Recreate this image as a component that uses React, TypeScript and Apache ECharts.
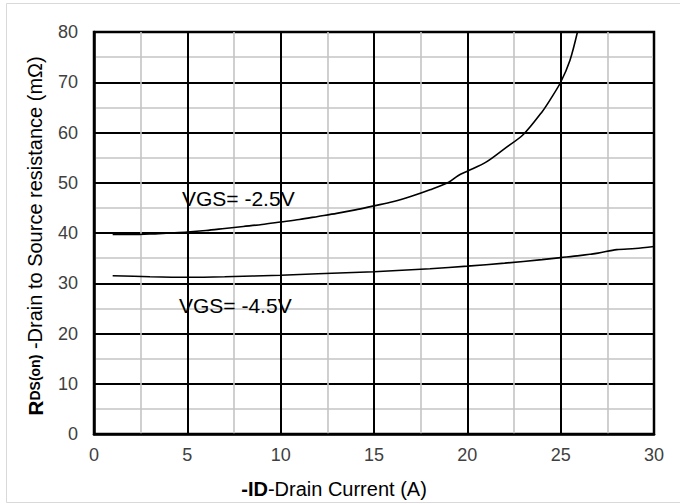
import React, { useEffect, useRef } from "react";
import * as echarts from "echarts";

const xTicks = [0, 5, 10, 15, 20, 25, 30];
const yTicks = [0, 10, 20, 30, 40, 50, 60, 70, 80];

const vgs25X = [1, 2, 3, 4, 5, 6, 7, 8, 9, 10, 11, 12, 13, 14, 15, 16, 17, 18, 19, 19.5, 20, 21, 22, 23, 24, 24.5, 25, 25.5, 25.9];
const vgs25Y = [39.7, 39.7, 39.8, 40.0, 40.2, 40.5, 40.9, 41.3, 41.7, 42.2, 42.7, 43.3, 43.9, 44.6, 45.4, 46.2, 47.3, 48.6, 50.1, 51.4, 52.3, 54.1, 56.8, 59.6, 64.1, 66.9, 70.0, 74.4, 80.0];

const vgs45X = [1, 3, 5, 7, 10, 12, 15, 18, 20, 22, 24, 25, 26, 27, 28, 29, 30];
const vgs45Y = [31.5, 31.3, 31.2, 31.3, 31.6, 31.9, 32.3, 32.9, 33.4, 34.0, 34.7, 35.1, 35.5, 36.0, 36.7, 36.9, 37.3];

const seriesLabels = ["VGS= -2.5V", "VGS= -4.5V"];
const FONT = "'Liberation Sans', Arial, sans-serif";

export default function App() {
  const ref = useRef<HTMLDivElement>(null);
  useEffect(() => {
    if (!ref.current) return;
    const chart = echarts.init(ref.current, null, { renderer: "svg" });
    const zip = (xs: number[], ys: number[]) => xs.map((x, i) => [x, ys[i]]);
    chart.setOption({
      animation: false,
      backgroundColor: "#fff",
      textStyle: { fontFamily: FONT },
      grid: {
        left: 94,
        right: 26,
        top: 32,
        bottom: 70,
        show: true,
        borderColor: "#000",
        borderWidth: 2.5,
      },
      xAxis: {
        type: "value",
        min: xTicks[0],
        max: xTicks[xTicks.length - 1],
        interval: 5,
        axisLine: { show: true, lineStyle: { color: "#000", width: 2.5 } },
        axisTick: { show: false },
        axisLabel: { color: "#404040", fontSize: 18, margin: 12, fontFamily: FONT },
        splitLine: { show: true, lineStyle: { color: "#000", width: 2 } },
        minorTick: { show: false, splitNumber: 2 },
        minorSplitLine: { show: true, lineStyle: { color: "#c4c4c4", width: 1.6 } },
      },
      yAxis: {
        type: "value",
        min: yTicks[0],
        max: yTicks[yTicks.length - 1],
        interval: 10,
        axisLine: { show: true, lineStyle: { color: "#000", width: 2.5 } },
        axisTick: { show: false },
        axisLabel: { color: "#404040", fontSize: 18, margin: 16, fontFamily: FONT },
        splitLine: { show: true, lineStyle: { color: "#000", width: 2 } },
        minorTick: { show: false, splitNumber: 2 },
        minorSplitLine: { show: true, lineStyle: { color: "#c4c4c4", width: 1.6 } },
      },
      series: [
        {
          name: seriesLabels[0],
          type: "line",
          data: zip(vgs25X, vgs25Y),
          smooth: 0.3,
          showSymbol: false,
          lineStyle: { color: "#000", width: 1.6 },
        },
        {
          name: seriesLabels[1],
          type: "line",
          data: zip(vgs45X, vgs45Y),
          smooth: 0.3,
          showSymbol: false,
          lineStyle: { color: "#000", width: 1.6 },
        },
      ],
      graphic: [
        {
          type: "rect",
          shape: { x: 6.5, y: 3.5, width: 680, height: 499 },
          style: { fill: "none", stroke: "#d9d9d9", lineWidth: 1 },
          z: -1,
        },
        {
          type: "text",
          x: 182,
          y: 198,
          style: { text: seriesLabels[0], fontSize: 21, fontFamily: FONT, fill: "#000", verticalAlign: "middle", align: "left" },
          z: 10,
        },
        {
          type: "text",
          x: 179,
          y: 305,
          style: { text: seriesLabels[1], fontSize: 21, fontFamily: FONT, fill: "#000", verticalAlign: "middle", align: "left" },
          z: 10,
        },
        {
          type: "text",
          x: 334,
          y: 489,
          style: {
            text: "{b|-ID}{n|-Drain Current (A)}",
            align: "center",
            verticalAlign: "middle",
            rich: {
              b: { fontSize: 20, fontWeight: "bold", fontFamily: FONT, fill: "#000" },
              n: { fontSize: 20, fontFamily: FONT, fill: "#000" },
            },
          },
        },
        {
          type: "text",
          x: 35,
          y: 236,
          rotation: Math.PI / 2,
          style: {
            text: "{r|R}{s|DS(on)}{n| -Drain to Source resistance (mΩ)}",
            align: "center",
            verticalAlign: "middle",
            rich: {
              r: { fontSize: 21, fontWeight: "bold", fontFamily: FONT, fill: "#000" },
              s: { fontSize: 14, fontWeight: "bold", fontFamily: FONT, fill: "#000" },
              n: { fontSize: 20, fontFamily: FONT, fill: "#000" },
            },
          },
        },
      ],
    });
    return () => chart.dispose();
  }, []);
  return <div ref={ref} style={{ width: 680, height: 504, position: "absolute", left: 0, top: 0 }} />;
}
